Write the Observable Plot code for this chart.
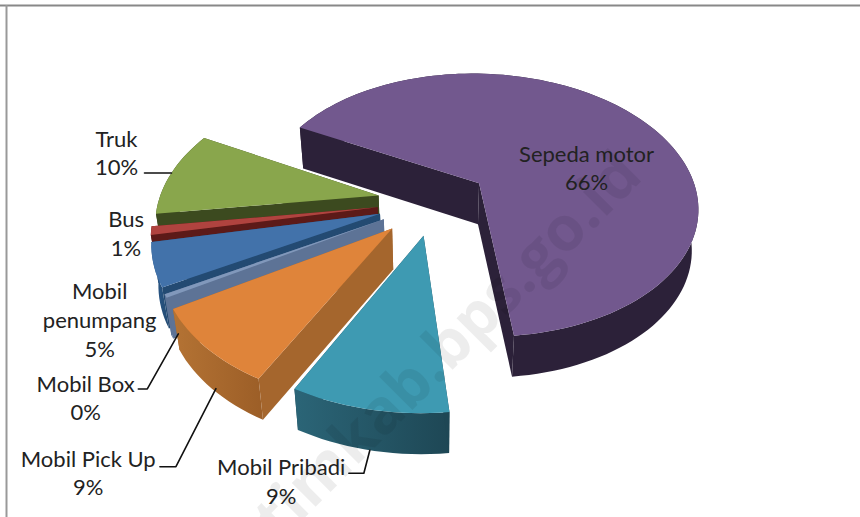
<!DOCTYPE html>
<html><head><meta charset="utf-8">
<style>html,body{margin:0;padding:0;background:#fff}svg{display:block}</style>
<script src="https://cdn.jsdelivr.net/npm/d3@7"></script>
<script src="https://cdn.jsdelivr.net/npm/@observablehq/plot@0.6"></script>
</head><body><div id="chart"></div>
<script>
// Data: clockwise from the big slice
const categories = ["Sepeda motor","Mobil Pribadi","Mobil Pick Up","Mobil Box","Mobil penumpang","Bus","Truk"];
const labelLines = ["Sepeda motor","Mobil Pribadi","Mobil Pick Up","Mobil Box","Mobil\npenumpang","Bus","Truk"];
const shares = [66,9.4,8.8,0.4,5,1,10];
const topColors = ["#72588e","#3e9ab2","#df843a","#8198bb","#4272aa","#b0433f","#89a64c"];
const wallRight = ["#2c2139","#1e4755","#9c5e27","#5d7396","#234a72","#5c1a18","#3c4a1f"];
const wallLeft  = ["#2c2139","#2b6577","#b47334","#5d7396","#2a5a8c","#5c1a18","#3c4a1f"];
const radialWall = ["#2c2139","#1e4755","#a5662d","#5d7396","#234a72","#5c1a18","#3c4a1f"];

// View of the 3-D pie
const view = {startDeg:298, cx:434, cy:201, A:220, B:134, k:0.17, H:41, shrink:0.975};
const explode = [0.25,0.25,0.27,0.26,0.26,0.26,0.26];
// Label placement relative to the slice's outer edge
const labelOffset = [[-52,49],[-87,71],[-118,124],[-80,101],[-54,54],[-25,2],[-55,-21]];
const leaderFrom = [null,[-21,23],[-52,78],[-34,52],null,null,[-27,0]];
const leaderElbow = [null,[-6,23],[-36,78],[-25,52],null,null,[0,0]];
const leaderEnd = [null,[0,0],[4,0],[6,-3],null,null,[0,0]];
const drawOrder = [0,6,5,4,3,2,1];

const rad = d => d*Math.PI/180;
const total = d3.sum(shares);
let acc = view.startDeg;
const slices = shares.map((s,i)=>{const a0=acc,a1=acc+s/total*360;acc=a1;return {i,a0,a1,mid:(a0+a1)/2};});
function pt(sl,deg,r,low){
  const m=rad(sl.mid),t=rad(deg),e=explode[sl.i];
  const u=e*Math.sin(m)+r*Math.sin(t), v=e*Math.cos(m)+r*Math.cos(t);
  const d=1+view.k*v, sx=view.A*u/d, sy=view.B*v/d;
  return low?{x:view.cx+sx*view.shrink,y:view.cy-sy+view.H}:{x:view.cx+sx,y:view.cy-sy};
}
const rows=[]; let pid=0;
const poly=(pts,fill)=>{const id=pid++;pts.forEach(p=>rows.push({id,x:p.x,y:p.y,fill}));};
for(const i of drawOrder){
  const sl=slices[i];
  const n=Math.max(2,Math.ceil((sl.a1-sl.a0)/2));
  const ang=d3.range(n+1).map(j=>sl.a0+(sl.a1-sl.a0)*j/n);
  poly([pt(sl,0,0),pt(sl,sl.a1,1),pt(sl,sl.a1,1,true),pt(sl,0,0,true)],radialWall[i]);
  poly([...ang.map(a=>pt(sl,a,1)),...ang.slice().reverse().map(a=>pt(sl,a,1,true))],`url(#wall${i})`);
  poly([pt(sl,0,0),pt(sl,sl.a0,1),pt(sl,sl.a0,1,true),pt(sl,0,0,true)],radialWall[i]);
  poly([pt(sl,0,0),...ang.map(a=>pt(sl,a,1))],topColors[i]);
}
const labels=slices.map(sl=>{
  const p=pt(sl,sl.mid,1),o=labelOffset[sl.i];
  return {x:p.x+o[0],y:p.y+o[1],text:labelLines[sl.i]+"\n"+Math.round(shares[sl.i])+"%"};
});
const leaders=[];
slices.forEach(sl=>{
  if(!leaderFrom[sl.i])return;
  const base=pt(sl,sl.mid,1,sl.i!==6);
  const f=leaderFrom[sl.i],e=leaderElbow[sl.i],t=leaderEnd[sl.i];
  [[base.x+f[0],base.y+f[1]],[base.x+e[0],base.y+e[1]],[base.x+t[0],base.y+t[1]]].forEach(c=>leaders.push({id:sl.i,x:c[0],y:c[1]}));
});
const chart=Plot.plot({
  width:860,height:517,margin:0,
  x:{domain:[0,860],axis:null},y:{domain:[517,0],axis:null},
  color:{type:"identity"},
  marks:[
    Plot.ruleY([5],{stroke:"#888",strokeWidth:2}),
    Plot.ruleX([6],{stroke:"#999",strokeWidth:2,y1:5,y2:517}),
    Plot.line(rows,{x:"x",y:"y",z:"id",fill:"fill",strokeWidth:0,strokeLinejoin:"round",curve:"linear-closed"}),
    Plot.line(leaders,{x:"x",y:"y",z:"id",stroke:"#111",strokeWidth:1.6}),
    Plot.text(labels,{x:"x",y:"y",text:"text",fontFamily:"Lato",fontSize:22,fill:"#222",lineHeight:1.3,textAnchor:"middle",lineAnchor:"middle"}),
    Plot.text(["timkab.bps.go.id"],{frameAnchor:"middle",textAnchor:"end",dx:200,dy:-95,rotate:-45,fontFamily:"Open Sans",fontWeight:700,fontSize:62,fill:"#000",fillOpacity:0.07})
  ]
});
const defs=d3.select(chart).append("defs");
wallLeft.forEach((c,i)=>{
  const g=defs.append("linearGradient").attr("id",`wall${i}`);
  g.append("stop").attr("offset","0%").attr("stop-color",c);
  g.append("stop").attr("offset","100%").attr("stop-color",wallRight[i]);
});
document.getElementById("chart").append(chart);
</script></body></html>
